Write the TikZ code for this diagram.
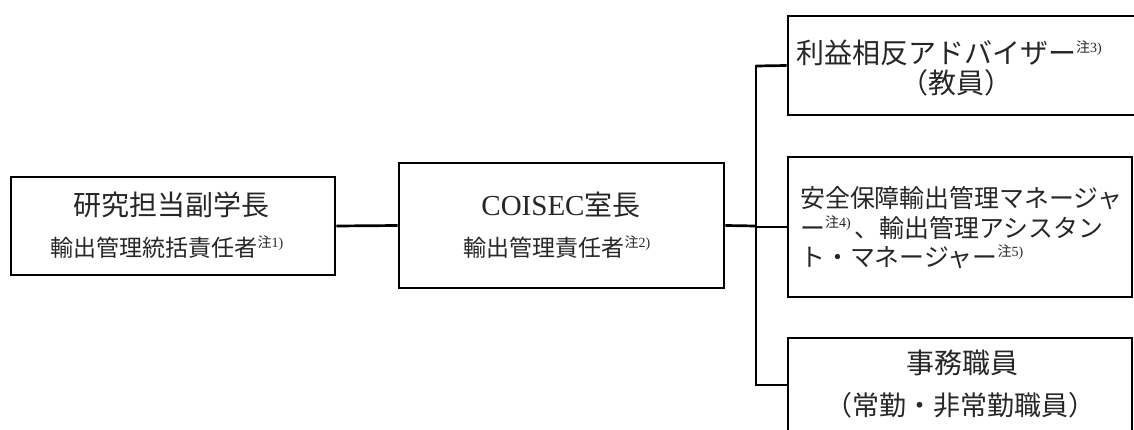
\documentclass[tikz,border=0pt]{standalone}
\usepackage{fontspec}
\setmainfont{Liberation Serif}
\newfontfamily\jp{Noto Sans CJK JP}
\newcommand\fsz[1]{\fontsize{#1}{#1}\selectfont}
\newcommand\chu[1]{\raisebox{0.4em}{\fsz{14}{\jp 注}#1}}
\begin{document}
\begin{tikzpicture}[x=1pt,y=-1pt,
  box/.style={draw=black,line width=2.8pt,rectangle,inner sep=0pt},
  conn/.style={line width=2.7pt},
  txt/.style={text=black!85,inner sep=0pt}]
\useasboundingbox (0,0) rectangle (1134,430);
\clip (0,0) rectangle (1134,430);
% boxes
\node[box,minimum width=324pt,minimum height=98pt] (b1) at (173,226) {};
\node[box,minimum width=325pt,minimum height=125pt] (b2) at (561.5,225.5) {};
\node[box,minimum width=352pt,minimum height=99pt] (b3) at (964,65.5) {};
\node[box,minimum width=344pt,minimum height=140pt] (b4) at (960,227) {};
\node[box,minimum width=344pt,minimum height=112pt] (b5) at (960,394) {};
% texts
\node[txt] (t1a) at (171,205) {\fsz{28}\jp 研究担当副学長};
\node[txt] (t1b) at (167,247) {\fsz{23}{\jp 輸出管理統括責任者}\chu{1)}};
\node[txt] (t2a) at (561,205) {\fsz{29}COISEC{\fsz{28}\jp 室長}};
\node[txt] (t2b) at (557,247) {\fsz{23}{\jp 輸出管理責任者}\chu{2)}};
\node[txt,anchor=west] (t3a) at (796,53) {\fsz{28}{\jp 利益相反アドバイザー}\chu{3)}};
\node[txt] (t3b) at (956,83) {\fsz{28}\jp （教員）};
\node[txt,anchor=west] (t4a) at (800,198) {\fsz{24.9}\jp 安全保障輸出管理マネージャ};
\node[txt,anchor=west] (t4b) at (800,228) {\fsz{24.9}{\jp ー}\chu{4)}\,{\jp 、輸出管理アシスタン}};
\node[txt,anchor=west] (t4c) at (800,257) {\fsz{24.9}{\jp ト・マネージャー}\chu{5)}};
\node[txt] (t5a) at (962,363) {\fsz{28}\jp 事務職員};
\node[txt] (t5b) at (960,405) {\fsz{27}\jp （常勤・非常勤職員）};
% connectors
\coordinate (j) at (756,226);
\coordinate (tt) at (756,66);
\coordinate (tb) at (756,385);
\coordinate (s5) at (788,385);
\draw[conn] (b1.east) -- (b2.west);
\draw[conn] (b2.east) -- (j);
\draw[conn,line cap=rect] (tt) -- (tb);
\draw[conn] (tt) -- (b3.west);
\draw[conn] (j |- b4.west) -- (b4.west);
\draw[conn] (tb) -- (s5);
\end{tikzpicture}
\end{document}
